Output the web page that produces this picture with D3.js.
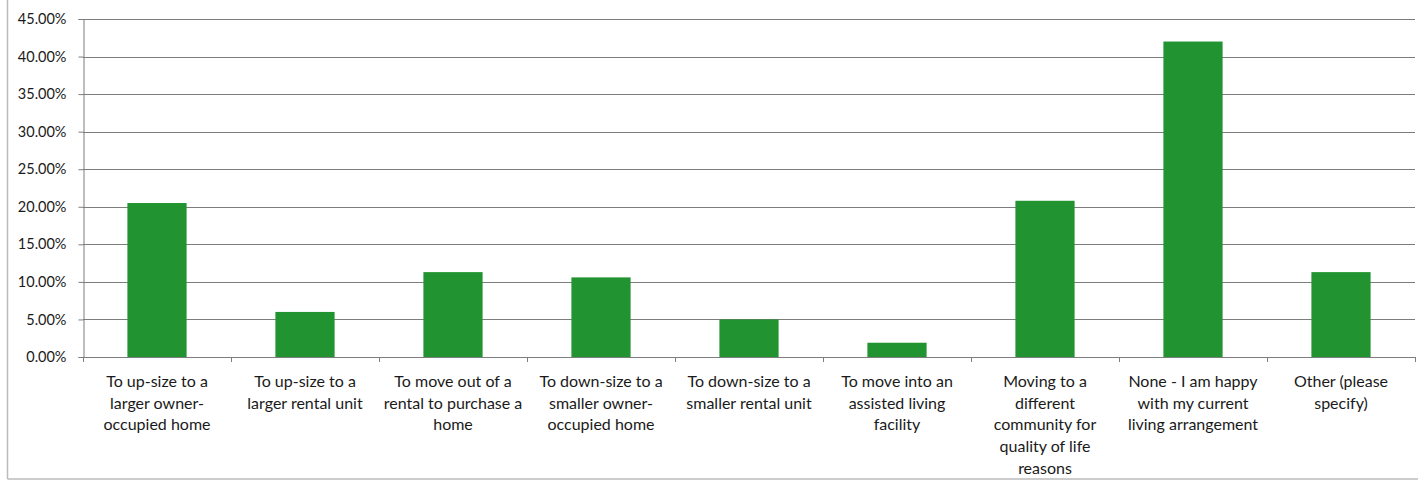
<!DOCTYPE html>
<html>
<head>
<meta charset="utf-8">
<script src="https://cdn.jsdelivr.net/npm/d3@7"></script>
<style>
  body { margin: 0; background: #fff; }
  svg { display: block; }
  text { font-family: Lato, "Open Sans", sans-serif; fill: #1a1a1a; }
</style>
</head>
<body>
<svg id="chart" width="1427" height="481"></svg>
<script>
const categories = [
  ["To up-size to a", "larger owner-", "occupied home"],
  ["To up-size to a", "larger rental unit"],
  ["To move out of a", "rental to purchase a", "home"],
  ["To down-size to a", "smaller owner-", "occupied home"],
  ["To down-size to a", "smaller rental unit"],
  ["To move into an", "assisted living", "facility"],
  ["Moving to a", "different", "community for", "quality of life", "reasons"],
  ["None - I am happy", "with my current", "living arrangement"],
  ["Other (please", "specify)"]
];
const values = [20.5, 6.0, 11.3, 10.6, 5.0, 1.9, 20.8, 42.0, 11.3];
const yTicks = [0, 5, 10, 15, 20, 25, 30, 35, 40, 45];

const svg = d3.select("#chart");
const margin = {left: 83, right: 12, top: 19, bottom: 124};
const W = 1427, H = 481;
const x = d3.scaleBand().domain(d3.range(categories.length))
  .range([margin.left, W - margin.right]).paddingInner(0.6).paddingOuter(0.3);
const y = d3.scaleLinear().domain([0, 45]).range([H - margin.bottom, margin.top]);

// outer border (left and bottom visible)
svg.append("line").attr("x1", 7.5).attr("x2", 7.5).attr("y1", 0).attr("y2", 479)
  .attr("stroke", "#bbb").attr("stroke-width", 1.5);
svg.append("line").attr("x1", 7.5).attr("x2", 1418).attr("y1", 479).attr("y2", 479)
  .attr("stroke", "#bbb").attr("stroke-width", 1.5);

// gridlines
svg.append("g").selectAll("line").data(yTicks.slice(1)).join("line")
  .attr("x1", margin.left).attr("x2", W - margin.right)
  .attr("y1", d => Math.round(y(d)) + 0.5).attr("y2", d => Math.round(y(d)) + 0.5)
  .attr("stroke", "#7d7d7d").attr("stroke-width", 1);

// bars
svg.append("g").selectAll("rect").data(values).join("rect")
  .attr("x", (d, i) => x(i))
  .attr("width", x.bandwidth())
  .attr("y", d => y(d))
  .attr("height", d => y(0) - y(d))
  .attr("fill", "#219330");

// y axis
const yAxis = d3.axisLeft(y).tickValues(yTicks).tickSize(5).tickPadding(12)
  .tickFormat(d => d.toFixed(2) + "%");
const gy = svg.append("g").attr("transform", `translate(${margin.left + 0.5},0)`).call(yAxis);
gy.select(".domain").attr("stroke", "#7d7d7d");
gy.selectAll(".tick line").attr("stroke", "#7d7d7d");
gy.selectAll(".tick text").style("font-size", "14.5px").style("font-family", "Lato, sans-serif").attr("fill", "#1a1a1a");

// x axis
const xAxisLine = svg.append("g");
xAxisLine.append("line").attr("x1", margin.left).attr("x2", W - margin.right)
  .attr("y1", Math.round(y(0)) + 0.5).attr("y2", Math.round(y(0)) + 0.5)
  .attr("stroke", "#7d7d7d");
const bounds = d3.range(categories.length + 1).map(i => margin.left + (W - margin.left - margin.right) * i / categories.length);
xAxisLine.selectAll("line.tk").data(bounds).join("line").attr("class", "tk")
  .attr("x1", d => Math.round(d) + 0.5).attr("x2", d => Math.round(d) + 0.5)
  .attr("y1", Math.round(y(0))).attr("y2", Math.round(y(0)) + 5)
  .attr("stroke", "#7d7d7d");

// category labels
const lbl = svg.append("g").selectAll("text").data(categories).join("text")
  .attr("text-anchor", "middle")
  .style("font-size", "16px")
  .attr("transform", (d, i) => `translate(${x(i) + x.bandwidth() / 2},387)`);
lbl.selectAll("tspan").data(d => d).join("tspan")
  .attr("x", 0).attr("y", (d, j) => j * 21.7).text(d => d);
</script>
</body>
</html>
